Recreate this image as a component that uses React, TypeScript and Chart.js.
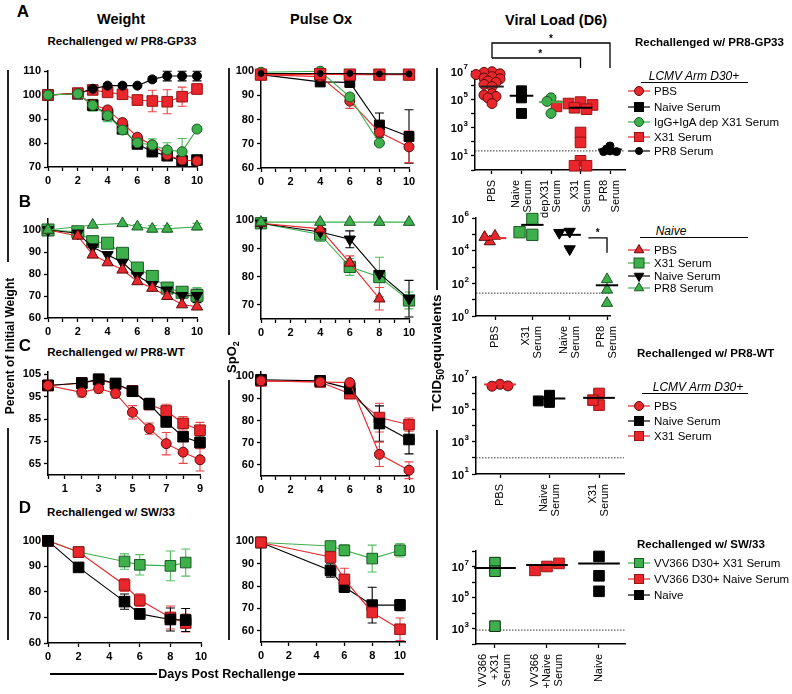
import React, { useEffect, useRef } from 'react';
import { Chart, registerables } from 'chart.js';

Chart.register(...registerables);

const FONT = '"Liberation Sans", Arial, Helvetica, sans-serif';
const RED = '#E8262B';
const RED_EDGE = '#5a0c0c';
const RED_SQ_EDGE = '#9a1414';
const RED_ERR = '#E6474B';
const GREEN = '#3DAF4B';
const GREEN_EDGE = '#1c5a25';
const GREEN_ERR = '#52BD5F';
const BLACK = '#000000';

// ================= DATA =================
// --- A: Rechallenged w/ PR8-GP33 (LCMV Arm D30+) ---
const weightDaysA = [0, 2, 3, 4, 5, 6, 7, 8, 9, 10];
const weightA_PBS = [100, 100.5, 96.1, 93.8, 88.5, 82.4, 79.2, 75.0, 72.9, 72.5];
const weightA_Naive = [100, 100.5, 95.8, 91.8, 85.9, 79.6, 76.4, 74.7, 72.5, 72.9];
const weightA_Dep = [100, 100.5, 95.7, 91.4, 85.4, 80.1, 79.2, 77.1, 76.4, 85.8];
const weightA_DepErr = [0, 0, 2.5, 2.5, 1.5, 1.5, 2.5, 3, 5.5, 0];
const weightA_X31 = [100, 100.8, 102.1, 101.1, 100.3, 97.9, 97.5, 97.2, 99.3, 102.5];
const weightA_X31Err = [0, 0, 1, 1, 0.5, 2, 4.5, 5, 4, 2];
const weightA_PR8 = [100, 100.6, 102.6, 103.9, 103.9, 103.9, 106.5, 107.9, 107.9, 107.9];
const weightA_PR8Err = [0, 0, 0.5, 0.7, 0.5, 0.5, 1, 2, 2, 2];

const oxDaysA = [0, 4, 6, 8, 10];
const oxA_PBS = [98.5, 97.7, 87.6, 74.7, 68.7];
const oxA_PBSErr = [0, 0, 3, 1.5, 6.5];
const oxA_Naive = [98.5, 95.5, 95.3, 77.7, 73.0];
const oxA_NaiveErr = [0, 0, 2, 5, 11];
const oxA_Dep = [99.5, 99.9, 89.3, 70.3, null];
const oxA_X31 = [98.5, 98.7, 98.5, 98.5, 98.5];
const oxA_PR8 = [99, 99, 99, 98.8, 98.8];

// viral load (log10 TCID50 equivalents)
const vlA_Cats = [['PBS'], ['Naive', 'Serum'], ['depX31', 'Serum'], ['X31', 'Serum'], ['PR8', 'Serum']];
const vlA_PBS = [6.95, 6.9, 6.8, 6.75, 6.6, 6.5, 6.45, 6.3, 6.2, 6.05, 5.9, 5.4, 5.3, 5.2, 5.1, 4.7];
const vlA_Naive = [5.6, 5.1, 4.0];
const vlA_Dep = [5.1, 4.85, 4.0];
const vlA_X31 = [4.8, 4.7, 4.6, 4.5, 4.4, 4.3, 2.65, 1.95, 0.65, 0.3, 0.3];
const vlA_PR8 = [1.7, 1.5, 1.35, 1.3, 1.3];
const vlA_Means = [5.9, 5.25, 4.8, 4.4, 1.45];
const vlA_LOD = 1.35;

// --- B: Naive ---
const weightDaysB = [0, 2, 3, 4, 5, 6, 7, 8, 9, 10];
const weightB_PR8 = [100, null, 102.3, null, 103, 101.5, 100.5, 100.5, null, 101.5];
const weightB_PR8Err = [0, 0, 0, 0, 0, 1, 1.5, 1.5, 0, 1.5];
const weightB_X31 = [100, 99.2, 94.7, 94.0, 89.4, 82.7, 78.9, 73.6, 71.7, 70.3];
const weightB_X31Err = [0, 0, 0, 0, 0, 1, 2, 1, 1, 3.5];
const weightB_Naive = [100, 98.5, 92.2, 88.7, 85.2, 79.2, 75.1, 72.6, 70.1, 70.1];
const weightB_NaiveErr = [0, 0, 0, 0, 0, 0, 0, 0, 0, 3];
const weightB_PBS = [100, 97.3, 88.7, 85.2, 81.9, 76.6, 73.6, 69.9, 66.1, 65.1];

const oxDaysB = [0, 4, 6, 8, 10];
const oxB_PR8 = [99.4, 99.4, 99.4, 99.4, 99.4];
const oxB_PBS = [99, 97, 84.9, 72.2, null];
const oxB_PBSErr = [0, 0, 2.5, 4, 0];
const oxB_X31 = [99, 95, 83.5, 79.9, 71.6];
const oxB_X31Err = [0, 2.5, 3, 7, 3];
const oxB_Naive = [99, 95.9, 93.3, 81.1, 72.2];
const oxB_NaiveErr = [0, 0, 3, 0, 6.5];

const vlB_Cats = [['PBS'], ['X31', 'Serum'], ['Naive', 'Serum'], ['PR8', 'Serum']];
const vlB_PBS = [4.9, 4.56, 4.83];
const vlB_X31 = [4.97, 5.94, 5.13];
const vlB_Naive = [5.17, 4.1, 5.1];
const vlB_PR8 = [2.24, 1.6, 0.79];
const vlB_Means = [4.77, 5.58, 4.97, 1.88];
const vlB_LOD = 1.4;

// --- C: Rechallenged w/ PR8-WT ---
const weightDaysC = [0, 2, 3, 4, 5, 6, 7, 8, 9];
const weightC_Naive = [100, 101.1, 102.8, 100.9, 97.4, 91.7, 83.7, 77.1, 74.5];
const weightC_NaiveErr = [0, 1, 1, 1, 1.5, 2.5, 2, 2, 2.5];
const weightC_PBS = [100, 96.9, 98.6, 96.4, 88.0, 80.7, 74.0, 70.2, 66.8];
const weightC_PBSErr = [0, 2, 2, 2, 3, 2.5, 5, 5, 5];
const weightC_X31 = [100, 101.0, 102.5, 100.5, 97.6, 91.5, 88.6, 83.1, 80.0];
const weightC_X31Err = [0, 0, 0, 0, 0, 0, 3, 3, 3.5];

const oxDaysC = [0, 4, 6, 8, 10];
const oxC_Naive = [98.5, 98, 94.5, 78.7, 71.5];
const oxC_NaiveErr = [0, 0, 0, 8, 6.5];
const oxC_X31 = [98, 97.5, 92.2, 81.4, 78.2];
const oxC_X31Err = [0, 0, 0, 6.5, 3];
const oxC_PBS = [98, 97.5, 97.2, 64.8, 57.6];
const oxC_PBSErr = [0, 0, 0, 5.5, 3.8];

const vlC_Cats = [['PBS'], ['Naive', 'Serum'], ['X31', 'Serum']];
const vlC_PBS = [6.55, 6.43, 6.45];
const vlC_Naive = [5.87, 5.43, 5.52];
const vlC_X31 = [5.98, 5.26, 5.57];
const vlC_Means = [6.54, 5.67, 5.71];
const vlC_LOD = 2.0;

// --- D: Rechallenged w/ SW/33 ---
const weightDaysD = [0, 2, 5, 6, 8, 9];
const weightD_Naive = [100, 89.6, 76.2, 71.4, 69.2, 69.0];
const weightD_NaiveErr = [0, 1, 3, 2, 4.5, 4.5];
const weightD_NaiveSerum = [100, 95.6, 82.7, 76.8, 70.0, 67.8];
const weightD_NaiveSerumErr = [0, 1, 2.5, 2.5, 4.5, 3.5];
const weightD_X31Serum = [100, 95.6, 91.9, 90.6, 90.2, 91.5];
const weightD_X31SerumErr = [0, 0, 3, 4, 5.8, 5.3];

const oxDaysD = [0, 5, 6, 8, 10];
const oxD_NaiveSerum = [99.5, 93, 83, 68.2, 60.7];
const oxD_NaiveSerumErr = [0, 2, 5, 0, 5];
const oxD_Naive = [99.5, 87, 79.6, 71.5, 71.5];
const oxD_NaiveErr = [0, 3, 2.5, 8, 2.5];
const oxD_X31Serum = [99.5, 97.9, 96, 92.3, 96];
const oxD_X31SerumErr = [0, 0, 2.5, 6, 3];

const vlD_Cats = [['VV366', '+X31', 'Serum'], ['VV366', '+Naive', 'Serum'], ['Naive']];
const vlD_X31Serum = [7.25, 6.7, 3.15];
const vlD_NaiveSerum = [7.0, 6.75, 7.2];
const vlD_Naive = [7.65, 6.4, 5.4];
const vlD_Means = [6.9, 7.1, 7.2];
const vlD_LOD = 2.9;

// ================= HELPERS =================
type Geo = { l: number; t: number; r: number; b: number };
type Series = {
  x: number[]; y: (number | null)[]; err?: number[];
  line: string; fill: string; edge: string; errColor?: string;
  shape: string; size: number; rot?: number;
};
type Box = { left: number; top: number; width: number; height: number; make: () => any };

const PAD_T = 10, PAD_R = 14, YW = 42, XH = 24;

const errorBarPlugin = {
  id: 'errorBars',
  beforeDatasetsDraw(chart: any) {
    const ctx = chart.ctx; const xs = chart.scales.x; const ys = chart.scales.y;
    const list = chart.data.datasets.slice().reverse();
    list.forEach((ds: any) => {
      if (!ds.errColor) return;
      ctx.save(); ctx.strokeStyle = ds.errColor; ctx.lineWidth = 1.1;
      ds.data.forEach((p: any) => {
        if (!p.e) return;
        const px = xs.getPixelForValue(p.x);
        const yt = ys.getPixelForValue(p.y + p.e); const yb = ys.getPixelForValue(p.y - p.e);
        ctx.beginPath(); ctx.moveTo(px, yt); ctx.lineTo(px, yb);
        ctx.moveTo(px - 4.5, yt); ctx.lineTo(px + 4.5, yt);
        ctx.moveTo(px - 4.5, yb); ctx.lineTo(px + 4.5, yb);
        ctx.stroke();
      });
      ctx.restore();
    });
  },
};

function seriesToDatasets(series: Series[]) {
  return series.map((s) => {
    const pts: any[] = [];
    s.x.forEach((xv, i) => {
      const yv = s.y[i];
      if (yv !== null && yv !== undefined) pts.push({ x: xv, y: yv, e: s.err ? s.err[i] : 0 });
    });
    return {
      data: pts, showLine: true, borderColor: s.line, borderWidth: 1.1,
      pointStyle: s.shape, pointRadius: s.size, pointRotation: s.rot || 0,
      pointBackgroundColor: s.fill, pointBorderColor: s.edge, pointBorderWidth: 1,
      clip: false, errColor: s.errColor || s.line,
    };
  });
}

function axis(type: string, min: number, max: number, ticks: number[], label: (v: number) => string, fit: (s: any) => void, showLabels = true) {
  return {
    type, min, max,
    afterBuildTicks: (s: any) => { s.ticks = ticks.map((v) => ({ value: v })); },
    afterFit: fit,
    ticks: {
      display: showLabels,
      callback: (v: any) => label(Number(v)),
      font: { family: FONT, size: 11, weight: 'bold' }, color: '#000',
      padding: 3, autoSkip: false, maxRotation: 0, minRotation: 0,
    },
    grid: { display: true, drawOnChartArea: false, drawTicks: true, tickLength: 4, tickWidth: 1.3, tickColor: '#000', color: '#000' },
    border: { display: true, color: '#000', width: 1.5 },
  };
}

const range = (a: number, b: number, step = 1) => { const r: number[] = []; for (let v = a; v <= b + 1e-9; v += step) r.push(v); return r; };
const evenLbl = (v: number) => (v % 2 === 0 ? String(v) : '');
const oddLbl = (v: number) => (v % 2 === 1 ? String(v) : '');
const numLbl = (v: number) => String(v);

function lineBox(geo: Geo, xMin: number, xMax: number, xTicks: number[], xLabel: (v: number) => string,
  yMin: number, yMax: number, yTicks: number[], series: Series[]): Box {
  const left = Math.round(geo.l - YW), top = Math.round(geo.t - PAD_T);
  const width = Math.round(geo.r - geo.l + YW + PAD_R);
  const height = Math.round(geo.b - geo.t + PAD_T + XH);
  const make = () => ({
    type: 'scatter',
    data: { datasets: seriesToDatasets(series) },
    options: {
      responsive: false, animation: false, events: [],
      layout: { padding: { top: PAD_T, right: PAD_R, left: 0, bottom: 0 } },
      plugins: { legend: { display: false }, tooltip: { enabled: false } },
      scales: {
        x: axis('linear', xMin, xMax, xTicks, xLabel, (s: any) => { s.height = XH; }),
        y: axis('linear', yMin, yMax, yTicks, numLbl, (s: any) => { s.width = YW; }),
      },
    },
    plugins: [errorBarPlugin],
  });
  return { left, top, width, height, make };
}

// deterministic bee-swarm: horizontal offsets so markers do not fully cover each other
function swarmOffsets(vals: number[], pxPerDec: number, pxPerUnit: number, diam: number): number[] {
  const placed: { x: number; y: number }[] = [];
  const step = diam * 0.5;
  return vals.map((v) => {
    const y = v * pxPerDec;
    for (let k = 0; k < 14; k++) {
      const c = k === 0 ? 0 : (k % 2 === 1 ? -1 : 1) * Math.ceil(k / 2) * step;
      if (placed.every((p) => Math.hypot(p.x - c, p.y - y) >= diam * 0.6)) { placed.push({ x: c, y }); return c / pxPerUnit; }
    }
    return 0;
  });
}

type Group = { vals: number[]; mean: number; meanColor: string; fill: string; edge: string; shape: string; size: number; rot?: number };

function powLabels(exps: number[]) {
  return {
    id: 'powLabels',
    afterDraw(chart: any) {
      const ctx = chart.ctx; const ys = chart.scales.y; const xr = chart.chartArea.left - 7;
      exps.forEach((e) => {
        const py = ys.getPixelForValue(Math.pow(10, e));
        ctx.save(); ctx.fillStyle = '#000'; ctx.textBaseline = 'middle'; ctx.textAlign = 'right';
        ctx.font = `bold 8px ${FONT}`; const ew = ctx.measureText(String(e)).width;
        ctx.fillText(String(e), xr, py - 4);
        ctx.font = `bold 11px ${FONT}`; ctx.fillText('10', xr - ew - 0.5, py + 1.5);
        ctx.restore();
      });
    },
  };
}

function catLabels(cats: string[][], gap: number, spacing: number) {
  return {
    id: 'catLabels',
    afterDraw(chart: any) {
      const ctx = chart.ctx; const xs = chart.scales.x; const bottom = chart.chartArea.bottom;
      ctx.save(); ctx.font = `11px ${FONT}`; ctx.fillStyle = '#000'; ctx.textAlign = 'right'; ctx.textBaseline = 'middle';
      cats.forEach((lines, i) => {
        const px = xs.getPixelForValue(i + 1);
        lines.forEach((ln, j) => {
          const cx = px + (j - (lines.length - 1) / 2) * spacing;
          ctx.save(); ctx.translate(cx, bottom + gap); ctx.rotate(-Math.PI / 2); ctx.fillText(ln, 0, 0); ctx.restore();
        });
      });
      ctx.restore();
    },
  };
}

function viralBox(geo: Geo, padT: number, xh: number, xMin: number, xMax: number, expMin: number, expMax: number,
  labelExps: number[], cats: string[][], groups: Group[], lod: number, meanHalf: number, extra: any[] = []): Box {
  const left = Math.round(geo.l - YW), top = Math.round(geo.t - padT);
  const width = Math.round(geo.r - geo.l + YW + PAD_R);
  const height = Math.round(geo.b - geo.t + padT + xh);
  const pxPerDec = (geo.b - geo.t) / (expMax - expMin);
  const pxPerUnit = (geo.r - geo.l) / (xMax - xMin);
  const make = () => {
    const meanSets = groups.map((g, i) => ({
      data: [{ x: i + 1 - meanHalf, y: Math.pow(10, g.mean) }, { x: i + 1 + meanHalf, y: Math.pow(10, g.mean) }],
      showLine: true, borderColor: g.meanColor, borderWidth: 2, pointRadius: 0, clip: false,
    }));
    const pointSets = groups.map((g, i) => {
      const offs = swarmOffsets(g.vals, pxPerDec, pxPerUnit, g.size * 1.6);
      return {
        data: g.vals.map((v, j) => ({ x: i + 1 + offs[j], y: Math.pow(10, v) })),
        showLine: false, pointStyle: g.shape, pointRadius: g.size, pointRotation: g.rot || 0,
        pointBackgroundColor: g.fill, pointBorderColor: g.edge, pointBorderWidth: 1, clip: false,
      };
    });
    const lodSet = {
      data: [{ x: xMin, y: Math.pow(10, lod) }, { x: xMax, y: Math.pow(10, lod) }],
      showLine: true, borderColor: '#333', borderWidth: 1, borderDash: [1.5, 1.5], pointRadius: 0,
    };
    const yTicks = range(Math.ceil(expMin), Math.floor(expMax)).map((e) => Math.pow(10, e));
    return {
      type: 'scatter',
      data: { datasets: [...meanSets, ...pointSets, lodSet] },
      options: {
        responsive: false, animation: false, events: [],
        layout: { padding: { top: padT, right: PAD_R, left: 0, bottom: 0 } },
        plugins: { legend: { display: false }, tooltip: { enabled: false } },
        scales: {
          x: axis('linear', xMin, xMax, cats.map((_, i) => i + 1), () => '', (s: any) => { s.height = xh; }, false),
          y: axis('logarithmic', Math.pow(10, expMin), Math.pow(10, expMax), yTicks, () => '', (s: any) => { s.width = YW; }, false),
        },
      },
      plugins: [powLabels(labelExps), catLabels(cats, 10, 12), ...extra],
    };
  };
  return { left, top, width, height, make };
}

const bracketsA = {
  id: 'bracketsA',
  afterDraw(chart: any) {
    const ctx = chart.ctx; const xs = chart.scales.x; const top = chart.chartArea.top;
    const x1 = xs.getPixelForValue(1), x4 = xs.getPixelForValue(4), x5 = xs.getPixelForValue(5);
    ctx.save(); ctx.strokeStyle = '#000'; ctx.lineWidth = 1.3;
    ctx.beginPath();
    ctx.moveTo(x1, top - 13); ctx.lineTo(x1, top - 28); ctx.lineTo(x5, top - 28); ctx.lineTo(x5, top - 3);
    ctx.moveTo(x1, top - 13); ctx.lineTo(x4, top - 13); ctx.lineTo(x4, top - 3);
    ctx.stroke();
    ctx.fillStyle = '#000'; ctx.font = `bold 10px ${FONT}`; ctx.textAlign = 'center'; ctx.textBaseline = 'middle';
    ctx.fillText('*', (x1 + x5) / 2, top - 32);
    ctx.fillText('*', (x1 + x4) / 2 + 4, top - 17);
    ctx.restore();
  },
};

const bracketB = {
  id: 'bracketB',
  afterDraw(chart: any) {
    const ctx = chart.ctx; const xs = chart.scales.x; const ys = chart.scales.y;
    const xa = xs.getPixelForValue(3.5), xb = xs.getPixelForValue(4);
    const ya = ys.getPixelForValue(Math.pow(10, 4.78)), yb = ys.getPixelForValue(Math.pow(10, 3.87));
    ctx.save(); ctx.strokeStyle = '#000'; ctx.lineWidth = 1.3;
    ctx.beginPath(); ctx.moveTo(xa, ya); ctx.lineTo(xb, ya); ctx.lineTo(xb, yb); ctx.stroke();
    ctx.fillStyle = '#000'; ctx.font = `bold 10px ${FONT}`; ctx.textAlign = 'center'; ctx.textBaseline = 'middle';
    ctx.fillText('*', (xa + xb) / 2, ya - 5);
    ctx.restore();
  },
};

// ================= PANELS =================
const wA = (y: (number | null)[], o: Partial<Series>): Series => ({ x: weightDaysA, y, line: BLACK, fill: BLACK, edge: BLACK, shape: 'circle', size: 5, ...o } as Series);

const boxes: Box[] = [
  // Row A
  lineBox({ l: 48, t: 71, r: 197, b: 167 }, 0, 10, range(0, 10), evenLbl, 70, 110, [70, 80, 90, 100, 110], [
    wA(weightA_Dep, { err: weightA_DepErr, line: GREEN, fill: GREEN, edge: GREEN_EDGE, errColor: GREEN_ERR }),
    wA(weightA_PBS, { line: RED, fill: RED, edge: RED_EDGE }),
    wA(weightA_PR8, { err: weightA_PR8Err, size: 4.5 }),
    wA(weightA_X31, { err: weightA_X31Err, line: RED, fill: RED, edge: RED_SQ_EDGE, errColor: RED_ERR, shape: 'rect', size: 7.5 }),
    wA(weightA_Naive, { shape: 'rect', size: 7.5 }),
  ]),
  lineBox({ l: 261, t: 71, r: 409, b: 168 }, 0, 10, range(0, 10), evenLbl, 60, 100, [60, 70, 80, 90, 100], [
    { x: oxDaysA, y: oxA_PR8, line: BLACK, fill: BLACK, edge: BLACK, shape: 'circle', size: 3 },
    { x: oxDaysA, y: oxA_X31, line: RED, fill: RED, edge: RED_SQ_EDGE, shape: 'rect', size: 8 },
    { x: oxDaysA, y: oxA_Dep, line: GREEN, fill: GREEN, edge: GREEN_EDGE, shape: 'circle', size: 5 },
    { x: oxDaysA, y: oxA_PBS, err: oxA_PBSErr, line: RED, fill: RED, edge: RED_EDGE, errColor: RED_ERR, shape: 'circle', size: 5 },
    { x: oxDaysA, y: oxA_Naive, err: oxA_NaiveErr, line: BLACK, fill: BLACK, edge: BLACK, shape: 'rect', size: 7 },
  ]),
  viralBox({ l: 475, t: 71, r: 625, b: 170.4 }, 40, 62, 0.424, 5.508, 0, 7, [1, 3, 5, 7], vlA_Cats, [
    { vals: vlA_PBS, mean: vlA_Means[0], meanColor: '#222', fill: RED, edge: RED_EDGE, shape: 'circle', size: 5 },
    { vals: vlA_Naive, mean: vlA_Means[1], meanColor: BLACK, fill: BLACK, edge: BLACK, shape: 'rect', size: 7 },
    { vals: vlA_Dep, mean: vlA_Means[2], meanColor: GREEN, fill: GREEN, edge: GREEN_EDGE, shape: 'circle', size: 5 },
    { vals: vlA_X31, mean: vlA_Means[3], meanColor: BLACK, fill: RED, edge: RED_SQ_EDGE, shape: 'rect', size: 7.5 },
    { vals: vlA_PR8, mean: vlA_Means[4], meanColor: BLACK, fill: BLACK, edge: BLACK, shape: 'circle', size: 4 },
  ], vlA_LOD, 0.4, [bracketsA]),
  // Row B
  lineBox({ l: 48, t: 219, r: 197, b: 318 }, 0, 10, range(0, 10), evenLbl, 60, 105, [60, 70, 80, 90, 100], [
    { x: weightDaysB, y: weightB_PR8, err: weightB_PR8Err, line: GREEN, fill: GREEN, edge: GREEN_EDGE, errColor: GREEN_ERR, shape: 'triangle', size: 6.5 },
    { x: weightDaysB, y: weightB_PBS, line: RED, fill: RED, edge: RED_EDGE, shape: 'triangle', size: 6.5 },
    { x: weightDaysB, y: weightB_Naive, err: weightB_NaiveErr, line: BLACK, fill: BLACK, edge: BLACK, shape: 'triangle', size: 6.5, rot: 180 },
    { x: weightDaysB, y: weightB_X31, err: weightB_X31Err, line: GREEN, fill: GREEN, edge: GREEN_EDGE, errColor: GREEN_ERR, shape: 'rect', size: 8.5 },
  ]),
  lineBox({ l: 261, t: 219, r: 409, b: 319 }, 0, 10, range(0, 10), evenLbl, 65, 100.5, [70, 80, 90, 100], [
    { x: oxDaysB, y: oxB_PR8, line: GREEN, fill: GREEN, edge: GREEN_EDGE, shape: 'triangle', size: 6.5 },
    { x: oxDaysB, y: oxB_PBS, err: oxB_PBSErr, line: RED, fill: RED, edge: RED_EDGE, errColor: RED_ERR, shape: 'triangle', size: 6.5 },
    { x: oxDaysB, y: oxB_Naive, err: oxB_NaiveErr, line: BLACK, fill: BLACK, edge: BLACK, shape: 'triangle', size: 6.5, rot: 180 },
    { x: oxDaysB, y: oxB_X31, err: oxB_X31Err, line: GREEN, fill: GREEN, edge: GREEN_EDGE, errColor: GREEN_ERR, shape: 'rect', size: 8 },
  ]),
  viralBox({ l: 476, t: 218, r: 610, b: 316.4 }, 10, 62, 0.491, 4.08, 0, 6, [0, 2, 4, 6], vlB_Cats, [
    { vals: vlB_PBS, mean: vlB_Means[0], meanColor: RED, fill: RED, edge: RED_EDGE, shape: 'triangle', size: 6.5 },
    { vals: vlB_X31, mean: vlB_Means[1], meanColor: BLACK, fill: GREEN, edge: GREEN_EDGE, shape: 'rect', size: 8 },
    { vals: vlB_Naive, mean: vlB_Means[2], meanColor: BLACK, fill: BLACK, edge: BLACK, shape: 'triangle', size: 6.5, rot: 180 },
    { vals: vlB_PR8, mean: vlB_Means[3], meanColor: BLACK, fill: GREEN, edge: GREEN_EDGE, shape: 'triangle', size: 6.5 },
  ], vlB_LOD, 0.3, [bracketB]),
  // Row C
  lineBox({ l: 48, t: 372, r: 200, b: 475 }, 0, 9, range(0, 9), oddLbl, 60, 106, [65, 75, 85, 95, 105], [
    { x: weightDaysC, y: weightC_PBS, err: weightC_PBSErr, line: RED, fill: RED, edge: RED_EDGE, errColor: RED_ERR, shape: 'circle', size: 5 },
    { x: weightDaysC, y: weightC_Naive, err: weightC_NaiveErr, line: BLACK, fill: BLACK, edge: BLACK, shape: 'rect', size: 7.5 },
    { x: weightDaysC, y: weightC_X31, err: weightC_X31Err, line: RED, fill: RED, edge: RED_SQ_EDGE, errColor: RED_ERR, shape: 'rect', size: 7.5 },
  ]),
  lineBox({ l: 261, t: 372, r: 409, b: 476 }, 0, 10, range(0, 10), evenLbl, 55, 102, [60, 70, 80, 90, 100], [
    { x: oxDaysC, y: oxC_PBS, err: oxC_PBSErr, line: RED, fill: RED, edge: RED_EDGE, errColor: RED_ERR, shape: 'circle', size: 5 },
    { x: oxDaysC, y: oxC_Naive, err: oxC_NaiveErr, line: BLACK, fill: BLACK, edge: BLACK, shape: 'rect', size: 7.5 },
    { x: oxDaysC, y: oxC_X31, err: oxC_X31Err, line: RED, fill: RED, edge: RED_SQ_EDGE, errColor: RED_ERR, shape: 'rect', size: 7.5 },
  ]),
  viralBox({ l: 476, t: 377, r: 624, b: 474 }, 10, 50, 0.515, 3.505, 1, 7, [1, 3, 5, 7], vlC_Cats, [
    { vals: vlC_PBS, mean: vlC_Means[0], meanColor: RED, fill: RED, edge: RED_EDGE, shape: 'circle', size: 5 },
    { vals: vlC_Naive, mean: vlC_Means[1], meanColor: BLACK, fill: BLACK, edge: BLACK, shape: 'rect', size: 7 },
    { vals: vlC_X31, mean: vlC_Means[2], meanColor: BLACK, fill: RED, edge: RED_SQ_EDGE, shape: 'rect', size: 7.5 },
  ], vlC_LOD, 0.32),
  // Row D
  lineBox({ l: 48, t: 537, r: 201, b: 643 }, 0, 10, [0, 2, 4, 6, 8, 10], evenLbl, 60, 101.5, [60, 70, 80, 90, 100], [
    { x: weightDaysD, y: weightD_Naive, err: weightD_NaiveErr, line: BLACK, fill: BLACK, edge: BLACK, shape: 'rect', size: 7.5 },
    { x: weightDaysD, y: weightD_NaiveSerum, err: weightD_NaiveSerumErr, line: RED, fill: RED, edge: RED_SQ_EDGE, errColor: RED_ERR, shape: 'rect', size: 7.5 },
    { x: weightDaysD, y: weightD_X31Serum, err: weightD_X31SerumErr, line: GREEN, fill: GREEN, edge: GREEN_EDGE, errColor: GREEN_ERR, shape: 'rect', size: 7.5 },
  ]),
  lineBox({ l: 261, t: 538, r: 405, b: 642 }, 0, 10.36, [0, 2, 4, 6, 8, 10], evenLbl, 55, 101.5, [60, 70, 80, 90, 100], [
    { x: oxDaysD, y: oxD_NaiveSerum, err: oxD_NaiveSerumErr, line: RED, fill: RED, edge: RED_SQ_EDGE, errColor: RED_ERR, shape: 'rect', size: 7.5 },
    { x: oxDaysD, y: oxD_Naive, err: oxD_NaiveErr, line: BLACK, fill: BLACK, edge: BLACK, shape: 'rect', size: 7.5 },
    { x: oxDaysD, y: oxD_X31Serum, err: oxD_X31SerumErr, line: GREEN, fill: GREEN, edge: GREEN_EDGE, errColor: GREEN_ERR, shape: 'rect', size: 7.5 },
  ]),
  viralBox({ l: 476, t: 550.5, r: 625, b: 643.5 }, 10, 50, 0.635, 3.5, 2, 8, [3, 5, 7], vlD_Cats, [
    { vals: vlD_X31Serum, mean: vlD_Means[0], meanColor: BLACK, fill: GREEN, edge: '#0d3012', shape: 'rect', size: 7.5 },
    { vals: vlD_NaiveSerum, mean: vlD_Means[1], meanColor: BLACK, fill: RED, edge: RED_SQ_EDGE, shape: 'rect', size: 7.5 },
    { vals: vlD_Naive, mean: vlD_Means[2], meanColor: BLACK, fill: BLACK, edge: BLACK, shape: 'rect', size: 7.5 },
  ], vlD_LOD, 0.4),
];

// ================= COMPONENTS =================
function ChartCanvas({ box }: { box: Box }) {
  const ref = useRef<HTMLCanvasElement>(null);
  useEffect(() => {
    const chart = new Chart(ref.current as HTMLCanvasElement, box.make());
    return () => chart.destroy();
  }, [box]);
  return (
    <canvas ref={ref} width={box.width} height={box.height}
      style={{ position: 'absolute', left: box.left, top: box.top, width: box.width, height: box.height }} />
  );
}

function T({ x, y, children, size = 12, bold = false, italic = false, align = 'center', rotate = false }: any) {
  const tx = align === 'center' ? '-50%' : align === 'right' ? '-100%' : '0';
  return (
    <div style={{
      position: 'absolute', left: x, top: y, whiteSpace: 'nowrap', lineHeight: 1, fontSize: size,
      fontWeight: bold ? 'bold' : 'normal', fontStyle: italic ? 'italic' : 'normal',
      transform: `translate(${tx}, -50%)${rotate ? ' rotate(-90deg)' : ''}`,
    }}>{children}</div>
  );
}

function HLine({ x1, x2, y, w = 1.2 }: any) {
  return <div style={{ position: 'absolute', left: x1, top: y - w / 2, width: x2 - x1, height: w, background: '#000' }} />;
}
function VLine({ x, y1, y2, w = 1.5 }: any) {
  return <div style={{ position: 'absolute', left: x - w / 2, top: y1, width: w, height: y2 - y1, background: '#222' }} />;
}

function Marker({ shape, fill, edge, r, rot }: any) {
  const cx = 12, cy = 8;
  if (shape === 'circle') return <circle cx={cx} cy={cy} r={r} fill={fill} stroke={edge} strokeWidth={1} />;
  if (shape === 'rect') return <rect x={cx - r} y={cy - r} width={2 * r} height={2 * r} fill={fill} stroke={edge} strokeWidth={1} />;
  const s = rot ? -1 : 1;
  const pts = [[cx, cy - s * r], [cx - r * 0.87, cy + s * r * 0.5], [cx + r * 0.87, cy + s * r * 0.5]].map((p) => p.join(',')).join(' ');
  return <polygon points={pts} fill={fill} stroke={edge} strokeWidth={1} />;
}

function LegendRow({ y, line, label, ...m }: any) {
  return (
    <div style={{ position: 'absolute', left: 627, top: y - 8, height: 16, display: 'flex', alignItems: 'center' }}>
      <svg width={24} height={16} style={{ display: 'block' }}>
        <line x1={1} y1={8} x2={23} y2={8} stroke={line} strokeWidth={1.2} />
        <Marker {...m} />
      </svg>
      <span style={{ marginLeft: 3, fontSize: 11.5, whiteSpace: 'nowrap' }}>{label}</span>
    </div>
  );
}

export default function App() {
  return (
    <div style={{ position: 'absolute', left: 0, top: 0, width: 792, height: 694, background: '#fff', fontFamily: FONT, color: '#000', overflow: 'hidden' }}>
      {boxes.map((b, i) => <ChartCanvas key={i} box={b} />)}

      {/* panel letters and headers */}
      <T x={23} y={11} size={17} bold>A</T>
      <T x={25} y={201} size={17} bold>B</T>
      <T x={25} y={345} size={17} bold>C</T>
      <T x={25} y={507} size={17} bold>D</T>
      <T x={121} y={19} size={14.5} bold>Weight</T>
      <T x={321} y={19} size={14.5} bold>Pulse Ox</T>
      <T x={556} y={20} size={14.5} bold>Viral Load (D6)</T>
      <T x={122} y={42} size={11.5} bold>Rechallenged w/ PR8-GP33</T>
      <T x={116} y={353} size={11.5} bold>Rechallenged w/ PR8-WT</T>
      <T x={111} y={513} size={11.5} bold>Rechallenged w/ SW/33</T>

      {/* side axis titles */}
      <VLine x={8} y1={70} y2={262} />
      <VLine x={8} y1={428} y2={640} />
      <T x={10} y={346} size={12} bold rotate>Percent of Initial Weight</T>
      <VLine x={229} y1={68} y2={335} />
      <VLine x={229} y1={380} y2={640} />
      <T x={233} y={357} size={13} bold rotate>SpO<sub style={{ fontSize: 9 }}>2</sub></T>
      <VLine x={437} y1={68} y2={290} />
      <VLine x={437} y1={430} y2={640} />
      <T x={438} y={353} size={13.5} bold rotate>TCID<sub style={{ fontSize: 10 }}>50</sub>equivalents</T>

      {/* bottom axis title */}
      <HLine x1={50} x2={157} y={674} />
      <HLine x1={298} x2={404} y={674} />
      <T x={227} y={674} size={12.5} bold>Days Post Rechallenge</T>

      {/* legend A */}
      <T x={635} y={43} size={11.5} bold align="left">Rechallenged w/ PR8-GP33</T>
      <T x={694} y={76} size={12} italic>LCMV Arm D30+</T>
      <HLine x1={641} x2={748} y={82} w={1} />
      <LegendRow y={91} line={RED} label="PBS" shape="circle" fill={RED} edge={RED_EDGE} r={4.5} />
      <LegendRow y={107} line={BLACK} label="Naive Serum" shape="rect" fill={BLACK} edge={BLACK} r={4.5} />
      <LegendRow y={122} line={GREEN} label="IgG+IgA dep X31 Serum" shape="circle" fill={GREEN} edge={GREEN_EDGE} r={4.5} />
      <LegendRow y={137} line={RED} label="X31 Serum" shape="rect" fill={RED} edge={RED_SQ_EDGE} r={4.5} />
      <LegendRow y={151} line={BLACK} label="PR8 Serum" shape="circle" fill={BLACK} edge={BLACK} r={3.5} />

      {/* legend B */}
      <T x={671} y={231} size={12} italic>Naive</T>
      <HLine x1={640} x2={748} y={237} w={1} />
      <LegendRow y={250} line={RED} label="PBS" shape="tri" fill={RED} edge={RED_EDGE} r={5.5} />
      <LegendRow y={263} line={GREEN} label="X31 Serum" shape="rect" fill={GREEN} edge={GREEN_EDGE} r={5} />
      <LegendRow y={276} line={BLACK} label="Naive Serum" shape="tri" rot={1} fill={BLACK} edge={BLACK} r={5.5} />
      <LegendRow y={288} line={GREEN} label="PR8 Serum" shape="tri" fill={GREEN} edge={GREEN_EDGE} r={5.5} />

      {/* legend C */}
      <T x={637} y={354} size={11.5} bold align="left">Rechallenged w/ PR8-WT</T>
      <T x={698} y={387} size={12} italic>LCMV Arm D30+</T>
      <HLine x1={642} x2={748} y={393} w={1} />
      <LegendRow y={406} line={RED} label="PBS" shape="circle" fill={RED} edge={RED_EDGE} r={4.5} />
      <LegendRow y={421} line={BLACK} label="Naive Serum" shape="rect" fill={BLACK} edge={BLACK} r={4.5} />
      <LegendRow y={436} line={RED} label="X31 Serum" shape="rect" fill={RED} edge={RED_SQ_EDGE} r={4.5} />

      {/* legend D */}
      <T x={637} y={545} size={11.5} bold align="left">Rechallenged w/ SW/33</T>
      <LegendRow y={563} line={GREEN} label="VV366 D30+ X31 Serum" shape="rect" fill={GREEN} edge={GREEN_EDGE} r={4.5} />
      <LegendRow y={579} line={RED} label="VV366 D30+ Naive Serum" shape="rect" fill={RED} edge={RED_SQ_EDGE} r={4.5} />
      <LegendRow y={595} line={BLACK} label="Naive" shape="rect" fill={BLACK} edge={BLACK} r={4.5} />
    </div>
  );
}
